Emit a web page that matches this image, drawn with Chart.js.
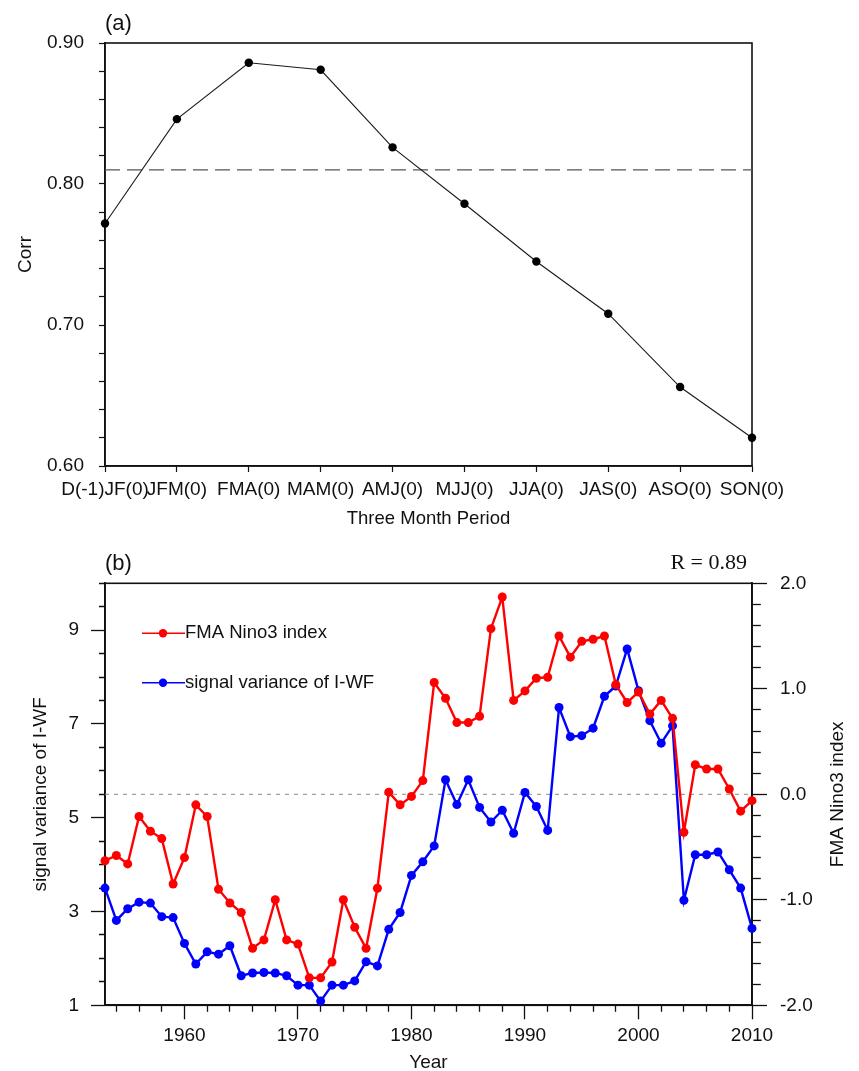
<!DOCTYPE html>
<html>
<head>
<meta charset="utf-8">
<script src="https://cdn.jsdelivr.net/npm/chart.js@4.4.1/dist/chart.umd.min.js"></script>
<style>
  html, body { margin: 0; padding: 0; background: #fff; overflow: hidden; }
  .panel { position: absolute; left: 0; width: 859px; height: 540px; }
  #panelA { top: 0; }
  #panelB { top: 540px; }
</style>
</head>
<body>
<div class="panel" id="panelA"><canvas id="corrChart"></canvas></div>
<div class="panel" id="panelB"><canvas id="seriesChart"></canvas></div>
<script>
// --- Panel (a): correlation for each three month period ---
const periods = ['D(-1)JF(0)', 'JFM(0)', 'FMA(0)', 'MAM(0)', 'AMJ(0)', 'MJJ(0)', 'JJA(0)', 'JAS(0)', 'ASO(0)', 'SON(0)'];
const corrValues = [0.772, 0.846, 0.886, 0.881, 0.826, 0.786, 0.745, 0.708, 0.656, 0.620];
const corrThreshold = 0.81;
const corrTickLabels = [0.6, 0.7, 0.8, 0.9];

// --- Panel (b): yearly series ---
const years = [
  1953, 1954, 1955, 1956, 1957, 1958, 1959, 1960, 1961, 1962,
  1963, 1964, 1965, 1966, 1967, 1968, 1969, 1970, 1971, 1972,
  1973, 1974, 1975, 1976, 1977, 1978, 1979, 1980, 1981, 1982,
  1983, 1984, 1985, 1986, 1987, 1988, 1989, 1990, 1991, 1992,
  1993, 1994, 1995, 1996, 1997, 1998, 1999, 2000, 2001, 2002,
  2003, 2004, 2005, 2006, 2007, 2008, 2009, 2010
];
// FMA Nino3 index (right axis)
const nino3 = [
  -0.63, -0.58, -0.66, -0.21, -0.35, -0.42, -0.85, -0.60, -0.10, -0.21,
  -0.90, -1.03, -1.12, -1.46, -1.38, -1.00, -1.38, -1.42, -1.74, -1.74,
  -1.59, -1.00, -1.26, -1.46, -0.89, 0.02, -0.10, -0.02, 0.13, 1.06,
  0.91, 0.68, 0.68, 0.74, 1.57, 1.87, 0.89, 0.98, 1.10, 1.11,
  1.50, 1.30, 1.45, 1.47, 1.50, 1.04, 0.87, 0.97, 0.76, 0.89,
  0.72, -0.36, 0.28, 0.24, 0.24, 0.05, -0.16, -0.06
];
// signal variance of I-WF (left axis)
const signalVar = [
  3.50, 2.81, 3.06, 3.20, 3.18, 2.89, 2.87, 2.32, 1.88, 2.14,
  2.09, 2.27, 1.63, 1.69, 1.70, 1.69, 1.63, 1.43, 1.43, 1.09,
  1.43, 1.43, 1.52, 1.93, 1.84, 2.62, 2.98, 3.77, 4.06, 4.40,
  5.81, 5.28, 5.81, 5.22, 4.91, 5.16, 4.67, 5.54, 5.24, 4.73,
  7.35, 6.73, 6.75, 6.91, 7.59, 7.81, 8.60, 7.71, 7.07, 6.59,
  6.96, 3.24, 4.21, 4.21, 4.27, 3.89, 3.50, 2.64
];
const yearTickLabels = [1960, 1970, 1980, 1990, 2000, 2010];
const varTickLabels = [1, 3, 5, 7, 9];
const ninoTickLabels = [-2, -1, 0, 1, 2];
const ninoZero = 0;
const corrText = 'R = 0.89';

const FONT = "'Liberation Sans', Arial, Helvetica, sans-serif";
const INK = '#111';
Chart.defaults.font.family = FONT;
Chart.defaults.color = INK;

const isIn = (list, v) => list.some(t => Math.abs(t - v) < 1e-6);

// major ticks long, minor ticks short (dash trick on the tick line)
function tickDash(labels, len, minorLen, outerFirst) {
  return ctx => {
    if (!ctx.tick || isIn(labels, ctx.tick.value)) return [];
    return outerFirst ? [0, len - minorLen, minorLen, 100] : [minorLen, 100];
  };
}

// box around the plot area
const framePlugin = {
  id: 'frame',
  beforeDatasetsDraw(chart) {
    const {ctx, chartArea: a} = chart;
    ctx.save();
    ctx.strokeStyle = INK;
    ctx.lineWidth = 1.6;
    ctx.strokeRect(a.left, a.top, a.right - a.left, a.bottom - a.top);
    ctx.restore();
  }
};

// panel label, legend, extra texts
function notesPlugin(opts) {
  return {
    id: 'notes',
    afterDraw(chart) {
      const {ctx, chartArea: a} = chart;
      ctx.save();
      ctx.fillStyle = INK;
      ctx.textBaseline = 'middle';
      ctx.font = '22px ' + FONT;
      ctx.textAlign = 'left';
      ctx.fillText(opts.label, a.left, a.top - 19);
      if (opts.rText) {
        ctx.font = "22px 'Liberation Serif', 'Times New Roman', serif";
        ctx.textAlign = 'right';
        ctx.fillText(opts.rText, a.right - 5, a.top - 20);
      }
      if (opts.rightTitle) {
        ctx.font = '19px ' + FONT;
        ctx.textAlign = 'center';
        ctx.translate(838, (a.top + a.bottom) / 2);
        ctx.rotate(-Math.PI / 2);
        ctx.fillText(opts.rightTitle, 0, 0);
        ctx.setTransform(1, 0, 0, 1, 0, 0);
      }
      if (opts.legend) {
        opts.legend.forEach((item, i) => {
          const y = a.top + 50 + i * 49.4;
          ctx.strokeStyle = item.color;
          ctx.lineWidth = 1.5;
          ctx.beginPath();
          ctx.moveTo(a.left + 37, y);
          ctx.lineTo(a.left + 80, y);
          ctx.stroke();
          ctx.fillStyle = item.color;
          ctx.beginPath();
          ctx.arc(a.left + 58, y, 4.2, 0, Math.PI * 2);
          ctx.fill();
          ctx.fillStyle = INK;
          ctx.font = '18.5px ' + FONT;
          ctx.textAlign = 'left';
          ctx.fillText(item.text, a.left + 80, y);
        });
      }
      ctx.restore();
    }
  };
}

// ---------- Panel (a) ----------
new Chart(document.getElementById('corrChart'), {
  type: 'line',
  data: {
    labels: periods,
    datasets: [
      {
        data: corrValues,
        borderColor: '#1a1a1a',
        backgroundColor: '#000',
        borderWidth: 1.1,
        pointRadius: 4.2,
        pointBorderWidth: 0,
        tension: 0,
        clip: false
      },
      {
        data: periods.map(() => corrThreshold),
        borderColor: '#555',
        borderWidth: 1.4,
        borderDash: [15, 7],
        pointRadius: 0,
        tension: 0
      }
    ]
  },
  options: {
    responsive: true,
    maintainAspectRatio: false,
    animation: false,
    events: [],
    layout: { padding: { top: 43, right: 107, left: 0, bottom: 0 } },
    plugins: { legend: { display: false }, tooltip: { enabled: false } },
    scales: {
      x: {
        type: 'category',
        offset: false,
        border: { color: INK, width: 1.6 },
        grid: { drawOnChartArea: false, offset: false, tickLength: 6, tickWidth: 1.2, tickColor: INK },
        ticks: { autoSkip: false, maxRotation: 0, padding: 6, font: { size: 19 } },
        title: { display: true, text: 'Three Month Period', font: { size: 18.5 }, padding: { top: 0, bottom: 10 } },
        afterFit: s => { s.height = 74; }
      },
      y: {
        min: 0.6,
        max: 0.9,
        border: { color: INK, width: 1.6 },
        grid: { drawOnChartArea: false, tickLength: 6, tickWidth: 1.2, tickColor: INK },
        ticks: {
          stepSize: 0.02,
          autoSkip: false,
          padding: 15,
          font: { size: 19 },
          callback: v => isIn(corrTickLabels, v) ? v.toFixed(2) : ''
        },
        title: { display: true, text: 'Corr', font: { size: 19 }, padding: { top: 14, bottom: 0 } },
        afterFit: s => { s.width = 105; }
      }
    }
  },
  plugins: [framePlugin, notesPlugin({ label: '(a)' })]
});

// ---------- Panel (b) ----------
new Chart(document.getElementById('seriesChart'), {
  type: 'line',
  data: {
    datasets: [
      {
        label: 'FMA Nino3 index',
        data: years.map((y, i) => ({ x: y, y: nino3[i] })),
        yAxisID: 'yNino',
        borderColor: '#ff0000',
        backgroundColor: '#ff0000',
        borderWidth: 2.4,
        pointRadius: 4.5,
        pointBorderWidth: 0,
        tension: 0,
        clip: false
      },
      {
        label: 'signal variance of I-WF',
        data: years.map((y, i) => ({ x: y, y: signalVar[i] })),
        yAxisID: 'yVar',
        borderColor: '#0000ff',
        backgroundColor: '#0000ff',
        borderWidth: 2.4,
        pointRadius: 4.5,
        pointBorderWidth: 0,
        tension: 0,
        clip: false
      },
      {
        data: [{ x: years[0], y: ninoZero }, { x: years[years.length - 1], y: ninoZero }],
        yAxisID: 'yNino',
        borderColor: '#888',
        borderWidth: 1,
        borderDash: [4, 5],
        pointRadius: 0
      }
    ]
  },
  options: {
    responsive: true,
    maintainAspectRatio: false,
    animation: false,
    events: [],
    layout: { padding: { top: 43.3, right: 0, left: 0, bottom: 0 } },
    plugins: { legend: { display: false }, tooltip: { enabled: false } },
    scales: {
      x: {
        type: 'linear',
        min: 1953,
        max: 2010,
        border: { color: INK, width: 1.8 },
        grid: {
          drawOnChartArea: false, tickLength: 14, tickWidth: 1.3, tickColor: INK,
          tickBorderDash: tickDash(yearTickLabels, 14, 6, false)
        },
        ticks: {
          stepSize: 2,
          includeBounds: false,
          autoSkip: false,
          maxRotation: 0,
          padding: 5,
          font: { size: 19 },
          callback: v => isIn(yearTickLabels, v) ? String(v) : ''
        },
        title: { display: true, text: 'Year', font: { size: 19 }, padding: { top: 0, bottom: 6 } },
        afterFit: s => { s.height = 74.7; }
      },
      yVar: {
        position: 'left',
        min: 1,
        max: 10,
        border: { color: INK, width: 1.8 },
        grid: {
          drawOnChartArea: false, tickLength: 14, tickWidth: 1.3, tickColor: INK,
          tickBorderDash: tickDash(varTickLabels, 14, 6, true)
        },
        ticks: {
          stepSize: 0.5,
          autoSkip: false,
          padding: 12,
          font: { size: 19 },
          callback: v => isIn(varTickLabels, v) ? String(v) : ''
        },
        title: { display: true, text: 'signal variance of I-WF', font: { size: 19 }, padding: { top: 29, bottom: 0 } },
        afterFit: s => { s.width = 105; }
      },
      yNino: {
        position: 'right',
        min: -2,
        max: 2,
        border: { color: INK, width: 1.8 },
        grid: {
          drawOnChartArea: false, tickLength: 15, tickWidth: 1.3, tickColor: INK,
          tickBorderDash: tickDash(ninoTickLabels, 15, 8, false)
        },
        ticks: {
          stepSize: 0.2,
          autoSkip: false,
          padding: 13,
          font: { size: 19 },
          callback: v => isIn(ninoTickLabels, v) ? v.toFixed(1) : ''
        },
        afterFit: s => { s.width = 107; }
      }
    }
  },
  plugins: [framePlugin, notesPlugin({
    label: '(b)',
    rText: corrText,
    rightTitle: 'FMA Nino3 index',
    legend: [
      { text: 'FMA Nino3 index', color: '#ff0000' },
      { text: 'signal variance of I-WF', color: '#0000ff' }
    ]
  })]
});
</script>
</body>
</html>
